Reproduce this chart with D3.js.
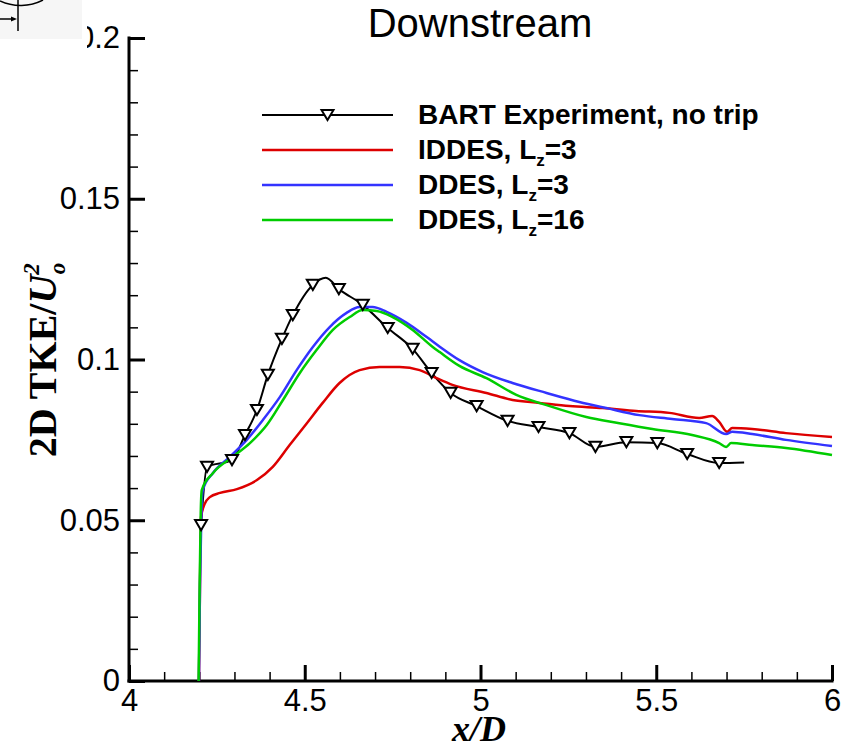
<!DOCTYPE html>
<html>
<head>
<meta charset="utf-8">
<script src="https://cdn.jsdelivr.net/npm/d3@7"></script>
<style>
  html, body { margin: 0; padding: 0; background: #ffffff; }
  svg { display: block; }
</style>
</head>
<body>
<script>
// ---------------- DATA ----------------
const xTickValues = [4, 4.5, 5, 5.5, 6];
const xTickLabels = ["4", "4.5", "5", "5.5", "6"];
const yTickValues = [0, 0.05, 0.1, 0.15, 0.2];
const yTickLabels = ["0", "0.05", "0.1", "0.15", "0.2"];

const seriesNames = ["BART Experiment, no trip", "IDDES, L", "DDES, L", "DDES, L"];
const seriesSubs = ["", "z", "z", "z"];
const seriesTails = ["", "=3", "=3", "=16"];

// Experiment (line points; marked = 1 where a symbol is drawn)
const expX = [4.205, 4.222, 4.293, 4.330, 4.364, 4.395, 4.435, 4.466, 4.523, 4.560, 4.597, 4.665, 4.736, 4.807, 4.861, 4.915, 4.989, 5.077, 5.165, 5.253, 5.327, 5.415, 5.503, 5.588, 5.679, 5.750];
const expY = [0.0485, 0.0666, 0.0687, 0.0765, 0.0843, 0.0952, 0.1064, 0.1138, 0.1232, 0.1254, 0.1219, 0.1170, 0.1098, 0.1033, 0.0958, 0.0896, 0.0855, 0.0809, 0.0790, 0.0771, 0.0728, 0.0743, 0.0740, 0.0706, 0.0678, 0.0680];
const expMarked = [1,1,1,1,1,1,1,1,1,0,1,1,1,1,1,1,1,1,1,1,1,1,1,1,1,0];

// IDDES, Lz=3
const iddesX = [4.199, 4.201, 4.203, 4.205, 4.215, 4.230, 4.259, 4.307, 4.364, 4.409, 4.457, 4.506, 4.551, 4.599, 4.656, 4.713, 4.770, 4.827, 4.875, 4.920, 5.017, 5.091, 5.168, 5.253, 5.347, 5.443, 5.537, 5.622, 5.659, 5.679, 5.702, 5.716, 5.773, 5.869, 6.000];
const iddesY = [0.0, 0.020, 0.040, 0.0510, 0.0550, 0.0572, 0.0585, 0.0597, 0.0625, 0.0666, 0.0734, 0.0802, 0.0865, 0.0927, 0.0967, 0.0977, 0.0977, 0.0967, 0.0942, 0.0921, 0.0896, 0.0874, 0.0865, 0.0855, 0.0849, 0.0840, 0.0834, 0.0818, 0.0824, 0.0806, 0.0775, 0.0787, 0.0784, 0.0771, 0.0759];

// DDES, Lz=3
const ddes3X = [4.199, 4.202, 4.206, 4.210, 4.239, 4.287, 4.335, 4.381, 4.429, 4.477, 4.523, 4.571, 4.619, 4.656, 4.693, 4.733, 4.790, 4.847, 4.884, 4.940, 5.006, 5.091, 5.188, 5.281, 5.358, 5.452, 5.545, 5.642, 5.699, 5.716, 5.773, 5.869, 6.000];
const ddes3Y = [0.0, 0.030, 0.052, 0.0594, 0.0647, 0.0697, 0.0750, 0.0812, 0.0883, 0.0967, 0.1039, 0.1101, 0.1145, 0.1163, 0.1163, 0.1148, 0.1114, 0.1070, 0.1040, 0.0998, 0.0961, 0.0927, 0.0896, 0.0868, 0.0849, 0.0827, 0.0815, 0.0802, 0.0768, 0.0775, 0.0768, 0.0750, 0.0731];

// DDES, Lz=16
const ddes16X = [4.198, 4.201, 4.204, 4.207, 4.239, 4.295, 4.344, 4.392, 4.438, 4.486, 4.534, 4.580, 4.628, 4.665, 4.705, 4.750, 4.807, 4.864, 4.884, 4.940, 5.017, 5.102, 5.188, 5.301, 5.395, 5.489, 5.602, 5.679, 5.699, 5.713, 5.773, 5.869, 6.000];
const ddes16Y = [0.0, 0.030, 0.052, 0.0594, 0.0647, 0.0697, 0.0740, 0.0796, 0.0874, 0.0958, 0.1030, 0.1092, 0.1132, 0.1154, 0.1151, 0.1132, 0.1092, 0.1039, 0.1023, 0.0980, 0.0942, 0.0890, 0.0858, 0.0821, 0.0802, 0.0784, 0.0765, 0.0740, 0.0728, 0.0740, 0.0734, 0.0725, 0.0703];

const seriesColors = ["#000000", "#dd0000", "#3333ff", "#00cc00"];

// ---------------- LAYOUT ----------------
const W = 856, H = 750;
const svg = d3.select("body").append("svg").attr("width", W).attr("height", H);

const x = d3.scaleLinear().domain([4, 6]).range([129, 832]);
const y = d3.scaleLinear().domain([0, 0.2]).range([681, 38]);

const tickFont = "'Liberation Sans', Arial, sans-serif";
const serifFont = "'Liberation Serif', 'Times New Roman', serif";

// Minor ticks
const xMinor = d3.range(41, 60).map(d => d / 10).filter(v => Math.abs(v * 2 - Math.round(v * 2)) > 1e-6);
const yMinor = d3.range(1, 20).map(d => d / 100).filter(v => Math.abs(v * 20 - Math.round(v * 20)) > 1e-6);

const gxMinor = svg.append("g").attr("transform", `translate(0,${y(0)})`)
  .call(d3.axisBottom(x).tickValues(xMinor).tickSize(-9).tickSizeOuter(0).tickFormat(""));
gxMinor.select(".domain").remove();
gxMinor.selectAll("line").attr("stroke", "#000").attr("stroke-width", 1.5);

const gyMinor = svg.append("g").attr("transform", `translate(${x(4)},0)`)
  .call(d3.axisLeft(y).tickValues(yMinor).tickSize(-9).tickSizeOuter(0).tickFormat(""));
gyMinor.select(".domain").remove();
gyMinor.selectAll("line").attr("stroke", "#000").attr("stroke-width", 1.5);

// Major axes
const gx = svg.append("g").attr("transform", `translate(0,${y(0)})`)
  .call(d3.axisBottom(x).tickValues(xTickValues).tickSize(-16).tickSizeOuter(0).tickPadding(8)
    .tickFormat((d, i) => xTickLabels[i]));
gx.select(".domain").attr("stroke", "#000").attr("stroke-width", 3);
gx.selectAll(".tick line").attr("stroke", "#000").attr("stroke-width", 3);
gx.selectAll(".tick text").attr("font-family", tickFont).attr("font-size", 31).attr("fill", "#000");

const gy = svg.append("g").attr("transform", `translate(${x(4)},0)`)
  .call(d3.axisLeft(y).tickValues(yTickValues).tickSize(-16).tickSizeOuter(0).tickPadding(9)
    .tickFormat((d, i) => yTickLabels[i]));
gy.select(".domain").attr("stroke", "#000").attr("stroke-width", 3);
gy.selectAll(".tick line").attr("stroke", "#000").attr("stroke-width", 3);
gy.selectAll(".tick text").attr("font-family", tickFont).attr("font-size", 31).attr("fill", "#000");
// clean L-shaped spines
gx.select(".domain").attr("d", `M${x(4) - 1.5},0H${x(6) + 1.5}`);
gy.select(".domain").attr("d", `M0,${y(0.2) - 1.5}V${y(0) + 1.5}`);

// ---------------- LINES ----------------
const lineGen = d3.line().x(d => x(d[0])).y(d => y(d[1])).curve(d3.curveMonotoneX);
const plot = svg.append("g");

const expData = expX.map((v, i) => [v, expY[i], expMarked[i]]);
plot.append("path").datum(expData).attr("d", lineGen)
  .attr("fill", "none").attr("stroke", seriesColors[0]).attr("stroke-width", 2);

const cfd = [
  [iddesX, iddesY, seriesColors[1]],
  [ddes3X, ddes3Y, seriesColors[2]],
  [ddes16X, ddes16Y, seriesColors[3]]
];
cfd.forEach(([xs, ys, c]) => {
  plot.append("path").datum(xs.map((v, i) => [v, ys[i]])).attr("d", lineGen)
    .attr("fill", "none").attr("stroke", c).attr("stroke-width", 2.5).attr("stroke-linejoin", "round");
});

// Triangle-down symbol
function triDown(cx, cy, s) {
  const h = s * 0.85;
  return `M${cx - s / 2},${cy - h / 2}L${cx + s / 2},${cy - h / 2}L${cx},${cy + h / 2}Z`;
}
plot.selectAll("path.sym").data(expData.filter(d => d[2] === 1)).enter()
  .append("path").attr("class", "sym")
  .attr("d", d => triDown(x(d[0]), y(d[1]), 12))
  .attr("fill", "#fff").attr("stroke", "#000").attr("stroke-width", 2).attr("stroke-linejoin", "miter");

// ---------------- LEGEND ----------------
const legX0 = 262, legX1 = 393, legTextX = 418, legY0 = 115, legDy = 35;
const leg = svg.append("g");
seriesNames.forEach((name, i) => {
  const ly = legY0 + i * legDy;
  leg.append("line").attr("x1", legX0).attr("x2", legX1).attr("y1", ly).attr("y2", ly)
    .attr("stroke", seriesColors[i]).attr("stroke-width", i === 0 ? 2 : 2.5);
  if (i === 0) {
    leg.append("path").attr("d", triDown((legX0 + legX1) / 2, ly, 12))
      .attr("fill", "#fff").attr("stroke", "#000").attr("stroke-width", 2);
  }
  const t = leg.append("text").attr("x", legTextX).attr("y", ly + 9)
    .attr("font-family", tickFont).attr("font-weight", "bold").attr("font-size", 28).attr("fill", "#000");
  t.append("tspan").text(name);
  if (seriesSubs[i]) {
    t.append("tspan").attr("font-size", 17).attr("dy", 7).text(seriesSubs[i]);
    t.append("tspan").attr("dy", -7).text(seriesTails[i]);
  }
});

// ---------------- TITLES ----------------
svg.append("text").attr("x", 480).attr("y", 37).attr("text-anchor", "middle")
  .attr("font-family", tickFont).attr("font-size", 40).attr("fill", "#000").text("Downstream");

svg.append("text").attr("x", 479).attr("y", 741).attr("text-anchor", "middle")
  .attr("font-family", serifFont).attr("font-size", 36)
  .attr("font-weight", "bold").attr("font-style", "italic").attr("fill", "#000").text("x/D");

const yl = svg.append("text").attr("transform", "translate(56,360) rotate(-90)").attr("text-anchor", "middle")
  .attr("font-family", serifFont).attr("font-size", 40)
  .attr("font-weight", "bold").attr("fill", "#000");
yl.append("tspan").text("2D TKE/");
yl.append("tspan").attr("font-style", "italic").text("U");
yl.append("tspan").attr("font-style", "italic").attr("font-size", 23).attr("dy", -17).text("2");
yl.append("tspan").attr("font-style", "italic").attr("font-size", 23).attr("dx", -11).attr("dy", 26).text("o");

// ---------------- CORNER LOGO FRAGMENT ----------------
const logo = svg.append("g");
logo.append("rect").attr("x", 0).attr("y", 0).attr("width", 82).attr("height", 39).attr("fill", "#f6f6f6");
logo.append("rect").attr("x", 0).attr("y", 39).attr("width", 87).attr("height", 18).attr("fill", "#ffffff");
logo.append("rect").attr("x", 82).attr("y", 20).attr("width", 5).attr("height", 19).attr("fill", "#ffffff");
logo.append("path").attr("d", "M0,1 A49,49 0 0 0 43,0").attr("fill", "none").attr("stroke", "#000").attr("stroke-width", 1.5);
logo.append("line").attr("x1", 18).attr("x2", 18).attr("y1", 0).attr("y2", 31).attr("stroke", "#000").attr("stroke-width", 1.5);
logo.append("line").attr("x1", 0).attr("x2", 14).attr("y1", 19).attr("y2", 19).attr("stroke", "#000").attr("stroke-width", 1.5);
logo.append("path").attr("d", "M17,19L11,16.5L11,21.5Z").attr("fill", "#000");
</script>
</body>
</html>
